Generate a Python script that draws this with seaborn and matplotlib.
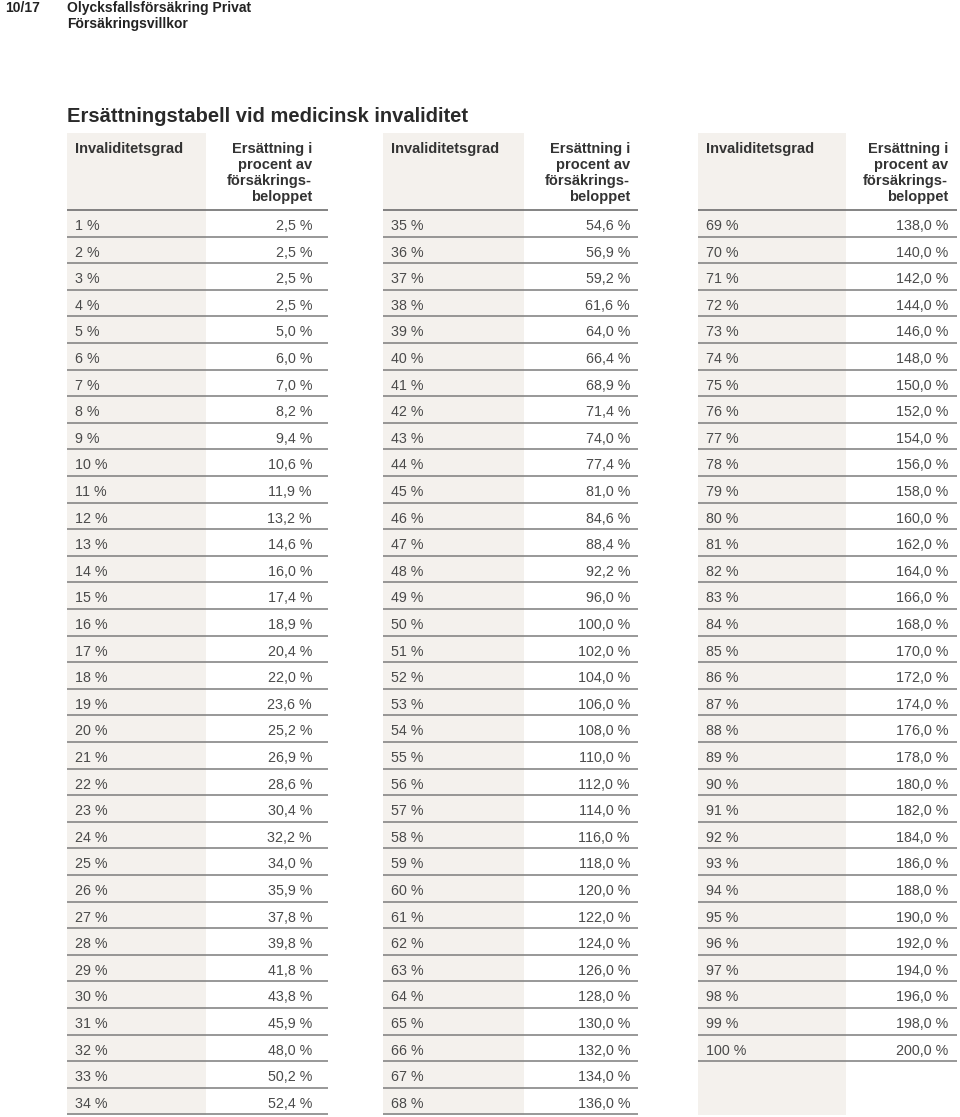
import matplotlib
matplotlib.use("Agg")
import matplotlib.pyplot as plt
import seaborn as sns

# ---------------- data ----------------
grades = [1, 2, 3, 4, 5, 6, 7, 8, 9, 10, 11, 12, 13, 14, 15, 16, 17, 18, 19, 20,
          21, 22, 23, 24, 25, 26, 27, 28, 29, 30, 31, 32, 33, 34, 35, 36, 37, 38, 39, 40,
          41, 42, 43, 44, 45, 46, 47, 48, 49, 50, 51, 52, 53, 54, 55, 56, 57, 58, 59, 60,
          61, 62, 63, 64, 65, 66, 67, 68, 69, 70, 71, 72, 73, 74, 75, 76, 77, 78, 79, 80,
          81, 82, 83, 84, 85, 86, 87, 88, 89, 90, 91, 92, 93, 94, 95, 96, 97, 98, 99, 100]
compensation = [2.5, 2.5, 2.5, 2.5, 5.0, 6.0, 7.0, 8.2, 9.4, 10.6,
                11.9, 13.2, 14.6, 16.0, 17.4, 18.9, 20.4, 22.0, 23.6, 25.2,
                26.9, 28.6, 30.4, 32.2, 34.0, 35.9, 37.8, 39.8, 41.8, 43.8,
                45.9, 48.0, 50.2, 52.4, 54.6, 56.9, 59.2, 61.6, 64.0, 66.4,
                68.9, 71.4, 74.0, 77.4, 81.0, 84.6, 88.4, 92.2, 96.0, 100.0,
                102.0, 104.0, 106.0, 108.0, 110.0, 112.0, 114.0, 116.0, 118.0, 120.0,
                122.0, 124.0, 126.0, 128.0, 130.0, 132.0, 134.0, 136.0, 138.0, 140.0,
                142.0, 144.0, 146.0, 148.0, 150.0, 152.0, 154.0, 156.0, 158.0, 160.0,
                162.0, 164.0, 166.0, 168.0, 170.0, 172.0, 174.0, 176.0, 178.0, 180.0,
                182.0, 184.0, 186.0, 188.0, 190.0, 192.0, 194.0, 196.0, 198.0, 200.0]
rows_per_table = [34, 34, 32]
col_header_left = "Invaliditetsgrad"
col_header_right = ["Ersättning i", "procent av", "försäkrings-", "beloppet"]
page_number = "10/17"
doc_title = ["Olycksfallsförsäkring Privat", "Försäkringsvillkor"]
table_title = "Ersättningstabell vid medicinsk invaliditet"

# ---------------- style ----------------
sns.set_theme(style="white")
plt.rcParams["font.family"] = ["Liberation Sans", "DejaVu Sans"]

W, H = 960, 1117
fig = plt.figure(figsize=(W / 100, H / 100), dpi=100)
ax = fig.add_axes([0, 0, 1, 1])
ax.set_xlim(0, W)
ax.set_ylim(H, 0)
ax.axis("off")

shade = "#f4f1ed"
line_col = "#7c7c7c"
txt_col = "#4a4a4a"
hdr_col = "#333333"

# table geometry: (left, shade_right, line_right, value_right)
tables = [(67, 206, 328, 312), (383, 524, 638, 630), (698, 846, 957, 948)]
top = 133
hdr_line = 210
row_h = 26.6
bottom = 1115

def fmt(v):
    return f"{v:.1f}".replace(".", ",") + " %"

start = 0
for (left, sright, lright, vright), n in zip(tables, rows_per_table):
    ax.fill_between([left, sright], top, bottom, color=shade, lw=0, zorder=0)
    ax.text(left + 8, 153, col_header_left, fontsize=10.5, fontweight="bold",
            color=hdr_col, ha="left", va="baseline")
    for i, t in enumerate(col_header_right):
        ax.text(vright, 153 + 16 * i, t, fontsize=10.5, fontweight="bold",
                color=hdr_col, ha="right", va="baseline")
    ax.plot([left, lright], [hdr_line, hdr_line], color="#6e6e6e", lw=1.2,
            solid_capstyle="butt", zorder=2)
    for k in range(n):
        g = grades[start + k]
        v = compensation[start + k]
        ytop = hdr_line + row_h * k
        ax.text(left + 8, ytop + 20, f"{g} %", fontsize=10.3, color=txt_col,
                ha="left", va="baseline")
        ax.text(vright, ytop + 20, fmt(v), fontsize=10.3, color=txt_col,
                ha="right", va="baseline")
        yl = ytop + row_h
        ax.plot([left, lright], [yl, yl], color=line_col, lw=1.1,
                solid_capstyle="butt", zorder=2)
    start += n

# page header
ax.text(5, 12, page_number, fontsize=10, fontweight="bold", color="#222222",
        ha="left", va="baseline")
ax.text(67, 12, doc_title[0], fontsize=10, fontweight="bold", color="#222222",
        ha="left", va="baseline")
ax.text(67, 28, doc_title[1], fontsize=10, fontweight="bold", color="#222222",
        ha="left", va="baseline")
ax.text(67, 122, table_title, fontsize=14.5, fontweight="bold", color="#2a2a2a",
        ha="left", va="baseline")

fig.savefig("out.png", dpi=100, facecolor="white")
